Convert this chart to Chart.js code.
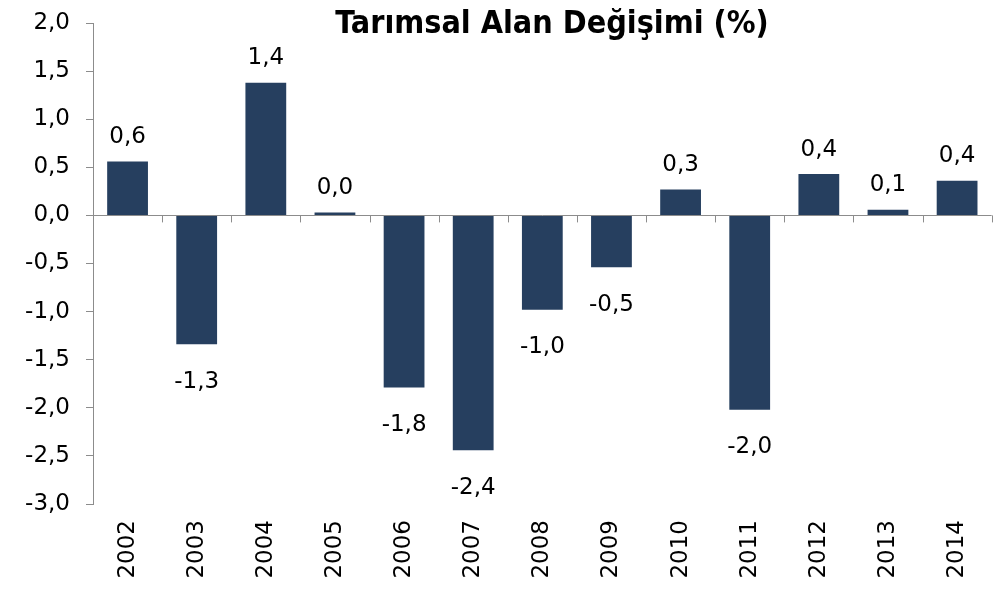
<!DOCTYPE html>
<html>
<head>
<meta charset="utf-8">
<script src="https://cdn.jsdelivr.net/npm/chart.js@4/dist/chart.umd.min.js"></script>
<style>
    html, body { margin: 0; padding: 0; background: #fff; }
    #wrap { width: 1001px; height: 595px; }
</style>
</head>
<body>
<div id="wrap"><canvas id="chartAlan" width="1001" height="595"></canvas></div>
<script>
const yillar = ["2002", "2003", "2004", "2005", "2006", "2007", "2008", "2009", "2010", "2011", "2012", "2013", "2014"];
const degisim = [0.56, -1.34, 1.38, 0.03, -1.79, -2.44, -0.98, -0.54, 0.27, -2.02, 0.43, 0.06, 0.36];
const etiketler = ["0,6", "-1,3", "1,4", "0,0", "-1,8", "-2,4", "-1,0", "-0,5", "0,3", "-2,0", "0,4", "0,1", "0,4"];
const judul = "Tarımsal Alan Değişimi (%)";

const GRI = "#8c8c8c";
const LACI = "#263f5f";
const FONT = "'DejaVu Sans', sans-serif";

function formatVirgul(v) {
    return v.toFixed(1).replace(".", ",");
}

// title, value labels and the small ticks on the zero line
const ekstraPlugin = {
    id: "ekstra",
    afterDatasetsDraw(chart) {
        const ctx = chart.ctx;
        const x = chart.scales.x;
        const y = chart.scales.y;
        const nol = y.getPixelForValue(0);

        ctx.save();
        ctx.strokeStyle = GRI;
        ctx.lineWidth = 1;
        const lebar = x.getPixelForTick(1) - x.getPixelForTick(0);
        for (let i = 0; i < yillar.length; i++) {
            const px = Math.round(x.getPixelForTick(i) + lebar / 2) + 0.5;
            ctx.beginPath();
            ctx.moveTo(px, nol);
            ctx.lineTo(px, nol + 7);
            ctx.stroke();
        }

        ctx.fillStyle = "#000";
        ctx.font = "23px " + FONT;
        ctx.textAlign = "center";
        const meta = chart.getDatasetMeta(0);
        meta.data.forEach((bar, i) => {
            if (degisim[i] >= 0) {
                ctx.textBaseline = "bottom";
                ctx.fillText(etiketler[i], bar.x, bar.y - 13);
            } else {
                ctx.textBaseline = "top";
                ctx.fillText(etiketler[i], bar.x, bar.y + 26);
            }
        });

        ctx.font = "bold 32px 'DejaVu Sans Condensed', sans-serif";
        ctx.textBaseline = "middle";
        ctx.fillText(judul, 552, 25);
        ctx.restore();
    }
};

new Chart(document.getElementById("chartAlan"), {
    type: "bar",
    data: {
        labels: yillar,
        datasets: [{
            data: degisim,
            backgroundColor: LACI,
            borderWidth: 0,
            barPercentage: 0.59,
            categoryPercentage: 1
        }]
    },
    options: {
        responsive: false,
        animation: false,
        layout: { padding: { top: 23, right: 8, bottom: 0, left: 0 } },
        plugins: {
            legend: { display: false },
            tooltip: { enabled: false }
        },
        scales: {
            x: {
                position: "bottom",
                grid: { display: false, drawTicks: false },
                border: { display: false },
                ticks: {
                    color: "#000",
                    font: { family: FONT, size: 23 },
                    minRotation: 90,
                    maxRotation: 90,
                    padding: 16
                },
                afterFit(scale) { scale.height = 91; }
            },
            y: {
                min: -3,
                max: 2,
                grid: {
                    color: c => (c.tick && c.tick.value === 0 ? GRI : "rgba(0,0,0,0)"),
                    tickColor: GRI,
                    tickLength: 7,
                    lineWidth: 1
                },
                border: { display: true, color: GRI, width: 1 },
                ticks: {
                    stepSize: 0.5,
                    color: "#000",
                    font: { family: FONT, size: 23 },
                    padding: 16,
                    callback: v => formatVirgul(v)
                },
                afterFit(scale) {
                    scale.width = 93;
                    scale.paddingTop = 0;
                    scale.paddingBottom = 0;
                }
            }
        }
    },
    plugins: [ekstraPlugin]
});
</script>
</body>
</html>
